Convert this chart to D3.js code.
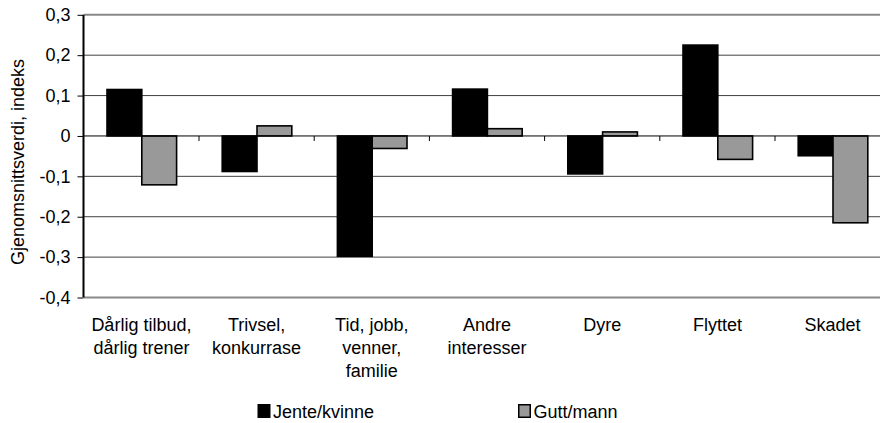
<!DOCTYPE html>
<html>
<head>
<meta charset="utf-8">
<script src="https://cdn.jsdelivr.net/npm/d3@7"></script>
<style>
  html, body { margin: 0; padding: 0; background: #fff; }
  svg text { font-family: "Liberation Sans", Arial, sans-serif; fill: #000; }
</style>
</head>
<body>
<svg id="chart" width="880" height="423"></svg>
<script>
// Categories (each label split into its display lines)
const categories = [
  ["Dårlig tilbud,", "dårlig trener"],
  ["Trivsel,", "konkurrase"],
  ["Tid, jobb,", "venner,", "familie"],
  ["Andre", "interesser"],
  ["Dyre"],
  ["Flyttet"],
  ["Skadet"]
];
const seriesNames = ["Jente/kvinne", "Gutt/mann"];
const jente = [0.115, -0.088, -0.298, 0.116, -0.094, 0.225, -0.049];
const gutt  = [-0.121, 0.025, -0.031, 0.018, 0.010, -0.058, -0.215];
const yTicks = [0.3, 0.2, 0.1, 0, -0.1, -0.2, -0.3, -0.4];
const yTitle = "Gjenomsnittsverdi, indeks";

const svg = d3.select("#chart");
const fontSize = 18;
const fmt = v => (v === 0 ? "0" : d3.format(".1f")(v).replace(".", ",").replace("−", "-"));

const keys = categories.map((c, i) => String(i));
const x0 = d3.scaleBand().domain(keys).range([83.8, 83.8 + 7 * 115.2]).padding(0);
const x1 = d3.scaleBand().domain(seriesNames).range([23.2, 23.2 + 69.6]).padding(0);
const y = d3.scaleLinear().domain([-0.4, 0.3]).range([297.5, 14.8]);

const colors = { "Jente/kvinne": "#000000", "Gutt/mann": "#999999" };

// Horizontal grid lines (outer ones lighter and heavier)
svg.append("g").selectAll("line")
  .data(yTicks.filter(t => t !== 0))
  .join("line")
  .attr("x1", 84).attr("x2", 880)
  .attr("y1", d => y(d)).attr("y2", d => y(d))
  .attr("stroke", d => (d === 0.3 || d === -0.4) ? "#888888" : "#404040")
  .attr("stroke-width", d => (d === 0.3 || d === -0.4) ? 2 : 1);

// Bars
const rows = [];
keys.forEach((k, i) => {
  rows.push({ k, s: "Jente/kvinne", v: jente[i] });
  rows.push({ k, s: "Gutt/mann", v: gutt[i] });
});
svg.append("g").selectAll("rect")
  .data(rows)
  .join("rect")
  .attr("x", d => x0(d.k) + x1(d.s))
  .attr("width", x1.bandwidth())
  .attr("y", d => Math.min(y(d.v), y(0)))
  .attr("height", d => Math.abs(y(d.v) - y(0)))
  .attr("fill", d => colors[d.s])
  .attr("stroke", "#000")
  .attr("stroke-width", 1.6);

// Zero line with category tick marks
svg.append("line")
  .attr("x1", 84).attr("x2", 880)
  .attr("y1", y(0)).attr("y2", y(0))
  .attr("stroke", "#000").attr("stroke-width", 1);
svg.append("g").selectAll("line")
  .data(keys.slice(1))
  .join("line")
  .attr("x1", d => x0(d)).attr("x2", d => x0(d))
  .attr("y1", y(0)).attr("y2", y(0) + 5)
  .attr("stroke", "#000").attr("stroke-width", 1);

// Y axis
const yAxis = d3.axisLeft(y).tickValues(yTicks).tickFormat(fmt).tickSize(6).tickPadding(8);
const ga = svg.append("g").attr("transform", "translate(83.5,0)").call(yAxis);
ga.select(".domain").attr("stroke", "#000").attr("stroke-width", 2).attr("d", `M0,${y(0.3)}V${y(-0.4)}`);
ga.selectAll(".tick line").attr("stroke", "#000").attr("stroke-width", 1);
ga.selectAll(".tick text")
  .attr("font-size", fontSize)
  .attr("font-family", "Liberation Sans, Arial, sans-serif")
  .attr("fill", "#000")
  .attr("x", -13);

// Y title
svg.append("text")
  .attr("transform", "translate(24,162) rotate(-90)")
  .attr("text-anchor", "middle")
  .attr("font-size", fontSize)
  .text(yTitle);

// Category labels
const cl = svg.append("g").selectAll("text")
  .data(categories.map((lines, i) => ({ lines, k: keys[i] })))
  .join("text")
  .attr("text-anchor", "middle")
  .attr("font-size", fontSize)
  .attr("x", d => x0(d.k) + x0.bandwidth() / 2)
  .attr("y", 331);
cl.selectAll("tspan")
  .data(d => d.lines.map(t => ({ t, cx: x0(d.k) + x0.bandwidth() / 2 })))
  .join("tspan")
  .attr("x", d => d.cx)
  .attr("dy", (d, i) => i === 0 ? 0 : 23)
  .text(d => d.t);

// Legend
const legendX = [257.5, 518];
const lg = svg.append("g").selectAll("g")
  .data(seriesNames)
  .join("g")
  .attr("transform", (d, i) => `translate(${legendX[i]},404)`);
lg.append("rect")
  .attr("x", 0.75).attr("y", 0.75)
  .attr("width", 11.5).attr("height", 12.5)
  .attr("fill", d => colors[d])
  .attr("stroke", "#000").attr("stroke-width", 1.5);
lg.append("text")
  .attr("x", 15.5).attr("y", 13.5)
  .attr("font-size", fontSize)
  .text(d => d);
</script>
</body>
</html>
